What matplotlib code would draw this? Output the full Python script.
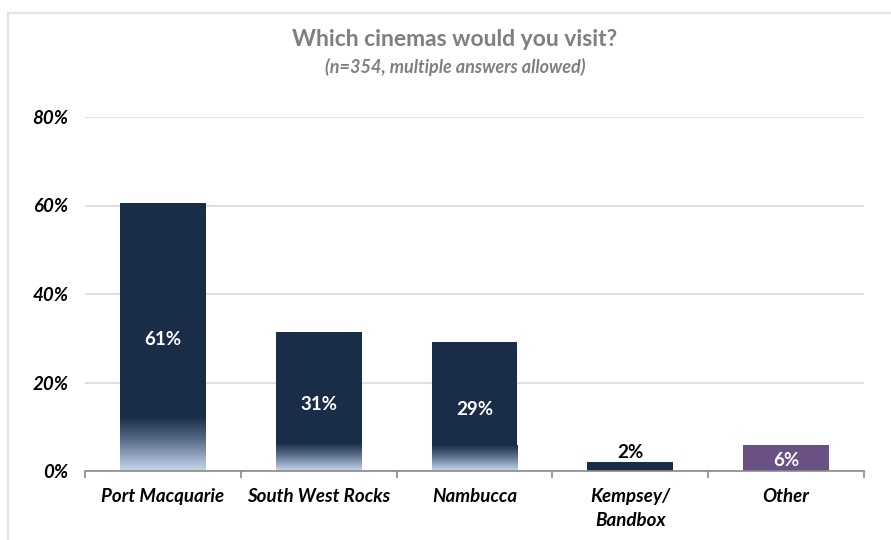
import matplotlib
matplotlib.use("Agg")
import matplotlib.pyplot as plt
import numpy as np
from matplotlib.colors import LinearSegmentedColormap
from matplotlib.lines import Line2D

categories = ["Port Macquarie", "South West Rocks", "Nambucca", "Kempsey/\nBandbox", "Other"]
values = [60.6, 31.4, 29.2, 2.0, 5.9]
labels = ["61%", "31%", "29%", "2%", "6%"]
yticks = [0, 20, 40, 60, 80]
ytick_labels = ["0%", "20%", "40%", "60%", "80%"]

navy = "#1a2d48"
purple = "#6a5185"
light = "#c9d9ee"
colors = [navy, navy, navy, navy, purple]
gradient = [True, True, True, False, False]

plt.rcParams['font.family'] = ['Lato', 'DejaVu Sans']

fig = plt.figure(figsize=(8.91, 5.4), dpi=100)
ax = fig.add_axes([85/891, 1-471/540, (864-85)/891, (471-117)/540])

x = np.arange(len(categories))
width = 0.55
bars = ax.bar(x, values, width=width, color=colors, zorder=2)

cmap = LinearSegmentedColormap.from_list("g", [(0, light), (0.55, "#5d7190"), (1.0, navy)])
grad = np.linspace(0, 1, 256).reshape(-1, 1)
for xi, v, g in zip(x, values, gradient):
    if g:
        h = v * 0.2
        ax.imshow(grad, cmap=cmap, origin="lower", aspect="auto",
                  extent=[xi - width/2, xi + width/2, 0, h], zorder=3, interpolation="bilinear")

ax.set_xlim(-0.5, len(categories) - 0.5)
ax.set_ylim(0, 80)

for xi, v, lab, c in zip(x, values, labels, colors):
    if v < 4:
        ax.text(xi, v + 0.2, lab, ha="center", va="bottom", fontsize=13.5, fontweight="bold", color="black", zorder=4)
    else:
        ax.text(xi, v / 2 - 0.6, lab, ha="center", va="center", fontsize=13.5, fontweight="bold", color="white", zorder=4)

ax.set_yticks(yticks)
ax.set_yticklabels(ytick_labels, fontsize=13.5, fontweight="bold", fontstyle="italic")
ax.tick_params(axis="y", length=0, pad=12)
ax.yaxis.grid(True, color="#d9d9d9", linewidth=1.2, zorder=0)
ax.set_axisbelow(True)

ax.set_xticks(np.arange(-0.5, len(categories), 1.0), minor=False)
ax.set_xticklabels([])
ax.tick_params(axis="x", length=5, color="#898989", width=1.2, direction="out")
for xi, cat in zip(x, categories):
    ax.text(xi, -3.9, cat, ha="center", va="top", fontsize=13.5, fontweight="bold",
            fontstyle="italic", linespacing=1.5)

for s in ["top", "right", "left"]:
    ax.spines[s].set_visible(False)
ax.spines["bottom"].set_color("#898989")
ax.spines["bottom"].set_linewidth(1.2)
ax.spines["bottom"].set_zorder(5)

fig.text(455/891, 1-39/540, "Which cinemas would you visit?", ha="center", va="center",
         fontsize=16.5, fontweight="bold", color="#7f7f7f")
fig.text(455/891, 1-67/540, "(n=354, multiple answers allowed)", ha="center", va="center",
         fontsize=13, fontweight="bold", fontstyle="italic", color="#7f7f7f")

fig.add_artist(Line2D([8/891, 8/891], [0, 1-13/540], transform=fig.transFigure, color="#e3e3e3", linewidth=1.5))
fig.add_artist(Line2D([8/891, 1], [1-13/540, 1-13/540], transform=fig.transFigure, color="#e3e3e3", linewidth=1.5))

fig.savefig("out.png", dpi=100)
